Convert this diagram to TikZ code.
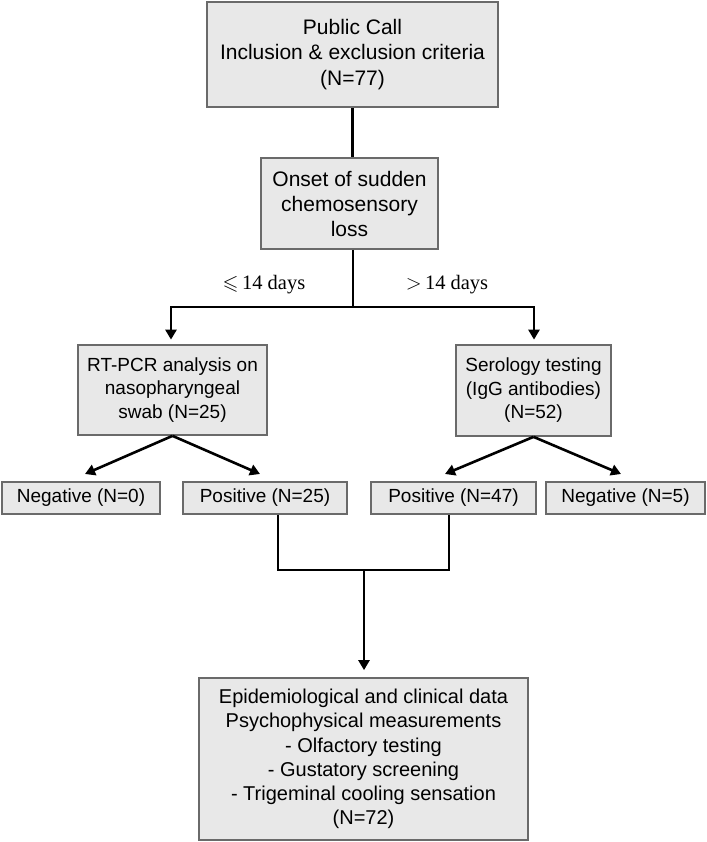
\documentclass[tikz,border=0pt]{standalone}
\usepackage{amssymb}
\usepackage{fontspec}
\setmainfont{Liberation Sans}
\newfontfamily\serifface{Liberation Serif}
\usetikzlibrary{arrows.meta}
\definecolor{boxfill}{HTML}{E8E8E8}
\definecolor{boxline}{HTML}{6A6A6A}
\begin{document}
\begin{tikzpicture}[x=1pt,y=-1pt,
  box/.style={draw=boxline, fill=boxfill, line width=1.7pt, inner sep=0pt, align=center},
  conn/.style={line width=2.6pt, black},
  arr/.style={conn, -{Triangle[length=10pt,width=11pt]}},
  lbl/.style={font=\serifface\fontsize{20.5}{24}\selectfont, inner sep=0pt}
]
\useasboundingbox (0,0) rectangle (706,842);

% boxes
\node[box, minimum width=291pt, minimum height=105pt, font=\fontsize{21}{25.5}\selectfont] (top) at (352.5,54.5)
  {Public Call\\Inclusion \& exclusion criteria\\(N=77)};
\node[box, minimum width=177pt, minimum height=91pt, font=\fontsize{21}{25}\selectfont] (onset) at (349.5,203.5)
  {Onset of sudden\\chemosensory\\loss};
\node[box, minimum width=189pt, minimum height=90pt, font=\fontsize{19}{23.5}\selectfont] (rt) at (172.5,390)
  {RT-PCR analysis on\\nasopharyngeal\\swab (N=25)};
\node[box, minimum width=155pt, minimum height=91pt, font=\fontsize{19}{23.5}\selectfont] (sero) at (533.5,390.5)
  {Serology testing\\(IgG antibodies)\\(N=52)};
\node[box, minimum width=158pt, minimum height=32pt, font=\fontsize{19}{23}\selectfont] (neg1) at (81,498) {Negative (N=0)};
\node[box, minimum width=164pt, minimum height=32pt, font=\fontsize{19}{23}\selectfont] (pos1) at (265,498) {Positive (N=25)};
\node[box, minimum width=165pt, minimum height=32pt, font=\fontsize{19}{23}\selectfont] (pos2) at (453.5,498) {Positive (N=47)};
\node[box, minimum width=159pt, minimum height=32pt, font=\fontsize{19}{23}\selectfont] (neg2) at (625.5,498) {Negative (N=5)};
\node[box, minimum width=329pt, minimum height=162pt, font=\fontsize{20}{24.2}\selectfont] (bottom) at (363.5,759)
  {Epidemiological and clinical data\\Psychophysical measurements\\- Olfactory testing\\- Gustatory screening\\- Trigeminal cooling sensation\\(N=72)};

% labels
\node[lbl] (l1) at (264,285) {$\leqslant$\,14 days};
\node[lbl] (l2) at (447,285) {$>$\,14 days};

% coordinates
\coordinate (split) at (353,307);
\coordinate (bl) at (171,307);
\coordinate (br) at (534,307);
\coordinate (t1) at (85,474);
\coordinate (t2) at (260,474);
\coordinate (t3) at (445,474);
\coordinate (t4) at (621,474);
\coordinate (j1) at (278,570);
\coordinate (j2) at (449,570);
\coordinate (jm) at (364,570);

% connectors
\draw[conn] (top.south) -- (top.south |- onset.north);
\draw[conn] (split |- onset.south) -- (split);
\draw[conn, line cap=rect] (bl) -- (br);
\draw[arr, shorten >=4.5pt] (bl) -- (bl |- rt.north);
\draw[arr, shorten >=4.5pt] (br) -- (br |- sero.north);
\draw[arr] (rt.south) -- (t1);
\draw[arr] (rt.south) -- (t2);
\draw[arr] (sero.south) -- (t3);
\draw[arr] (sero.south) -- (t4);
\draw[conn, line join=miter] (j1 |- pos1.south) -- (j1) -- (j2) -- (j2 |- pos2.south);
\draw[arr, shorten >=7pt] (jm) -- (jm |- bottom.north);
\end{tikzpicture}
\end{document}
